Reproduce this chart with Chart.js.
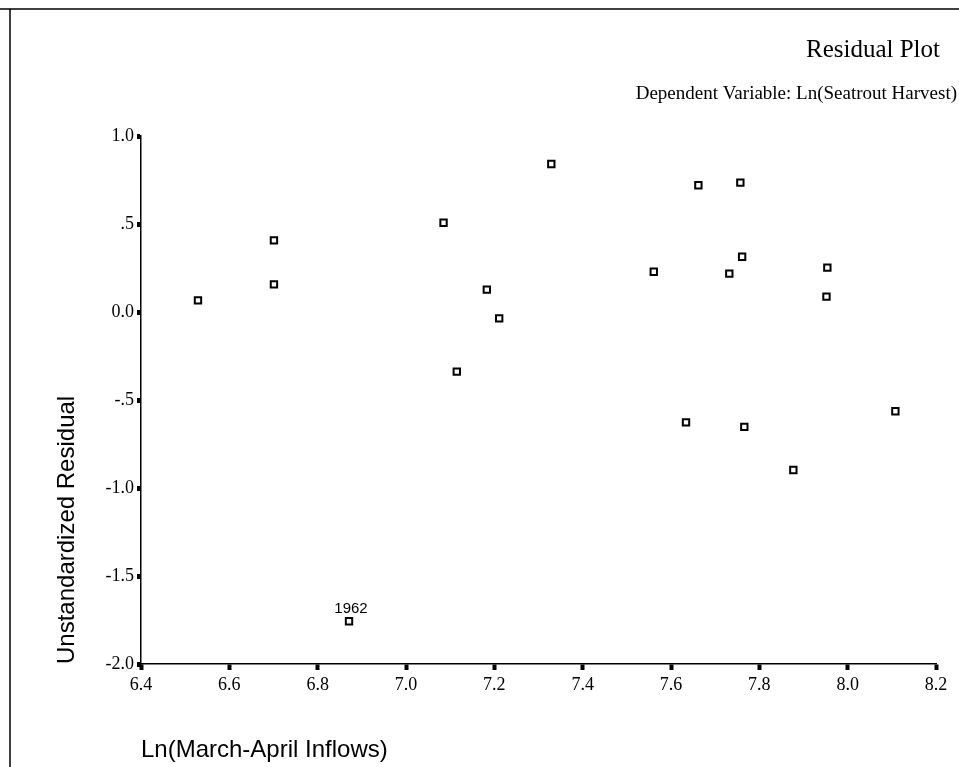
<!DOCTYPE html>
<html>
<head>
<meta charset="utf-8">
<title>Residual Plot</title>
<script src="https://cdn.jsdelivr.net/npm/chart.js@4/dist/chart.umd.min.js"></script>
<style>
  html, body { margin: 0; padding: 0; background: #fff; }
  #residualChart { display: block; }
</style>
</head>
<body>
<canvas id="residualChart" width="959" height="767"></canvas>
<script>
const inflows = [6.529, 6.701, 6.701, 6.871, 7.085, 7.115, 7.183, 7.211, 7.329, 7.561,
  7.634, 7.662, 7.732, 7.757, 7.761, 7.766, 7.877, 7.954, 7.952, 8.108];
const residuals = [0.066, 0.407, 0.157, -1.757, 0.507, -0.339, 0.127, -0.036, 0.841, 0.229,
  -0.627, 0.720, 0.218, 0.735, 0.314, -0.653, -0.898, 0.252, 0.087, -0.564];
const pointLabels = ['', '', '', '1962', '', '', '', '', '', '',
  '', '', '', '', '', '', '', '', '', ''];
const xTickLabels = ['6.4', '6.6', '6.8', '7.0', '7.2', '7.4', '7.6', '7.8', '8.0', '8.2'];
const yTickLabels = ['-2.0', '-1.5', '-1.0', '-.5', '0.0', '.5', '1.0'];

const chartTitle = 'Residual Plot';
const chartSubtitle = 'Dependent Variable: Ln(Seatrout Harvest)';
const xTitle = 'Ln(March-April Inflows)';
const yTitle = 'Unstandardized Residual';

const serif = '"Liberation Serif", "Times New Roman", serif';
const sans = '"Liberation Sans", Arial, sans-serif';

// frame, titles and the labelled point are drawn by hand on the canvas
const decorations = {
  id: 'decorations',
  beforeDraw(chart) {
    const { ctx } = chart;
    ctx.save();
    ctx.strokeStyle = '#000';
    ctx.lineWidth = 1.5;
    ctx.beginPath();
    ctx.moveTo(0, 9);
    ctx.lineTo(chart.width, 9);
    ctx.moveTo(10, 9);
    ctx.lineTo(10, chart.height);
    ctx.stroke();
    ctx.restore();
  },
  afterDraw(chart) {
    const { ctx } = chart;
    ctx.save();
    ctx.fillStyle = '#000';
    ctx.textAlign = 'right';
    ctx.textBaseline = 'alphabetic';
    ctx.font = `25px ${serif}`;
    ctx.fillText(chartTitle, 940, 57);
    ctx.font = `19px ${serif}`;
    ctx.fillText(chartSubtitle, 957, 99);

    const meta = chart.getDatasetMeta(0);
    ctx.textAlign = 'center';
    ctx.font = `15px ${sans}`;
    meta.data.forEach((pt, i) => {
      if (pointLabels[i]) {
        ctx.fillText(pointLabels[i], pt.x + 2, pt.y - 8);
      }
    });
    ctx.restore();
  },
};

const ctx = document.getElementById('residualChart');
const residualChart = new Chart(ctx, {
  type: 'scatter',
  plugins: [decorations],
  data: {
    datasets: [{
      label: 'Residual',
      data: inflows.map((x, i) => ({ x, y: residuals[i] })),
      pointStyle: 'rect',
      pointRadius: 4.5,
      pointBorderWidth: 2,
      pointBorderColor: '#000',
      pointBackgroundColor: '#fff',
    }],
  },
  options: {
    responsive: false,
    animation: false,
    layout: { padding: { left: 0, top: 136, right: 23, bottom: 0 } },
    plugins: {
      legend: { display: false },
      tooltip: { enabled: false },
    },
    scales: {
      x: {
        type: 'linear',
        min: 6.4,
        max: 8.2,
        afterBuildTicks: (scale) => {
          scale.ticks = xTickLabels.map(v => ({ value: parseFloat(v) }));
        },
        afterFit: (scale) => { scale.height = 103; },
        border: { display: true, color: '#000', width: 1.5 },
        grid: {
          drawOnChartArea: false,
          drawTicks: true,
          tickLength: 6,
          tickWidth: 4,
          tickColor: '#000',
        },
        ticks: {
          color: '#000',
          padding: 4,
          maxRotation: 0,
          autoSkip: false,
          font: { family: serif, size: 18 },
          callback: (value, index) => xTickLabels[index],
        },
        title: {
          display: true,
          text: xTitle,
          align: 'start',
          color: '#000',
          font: { family: sans, size: 24 },
          padding: { top: 0, bottom: 2 },
        },
      },
      y: {
        type: 'linear',
        min: -2,
        max: 1,
        afterBuildTicks: (scale) => {
          scale.ticks = yTickLabels.map(v => ({ value: parseFloat(v) }));
        },
        afterFit: (scale) => { scale.width = 141; },
        border: { display: true, color: '#000', width: 1.5 },
        grid: {
          drawOnChartArea: false,
          drawTicks: true,
          tickLength: 4,
          tickWidth: 5,
          tickColor: '#000',
        },
        ticks: {
          color: '#000',
          padding: 3,
          autoSkip: false,
          font: { family: serif, size: 18 },
          callback: (value, index) => yTickLabels[index],
        },
        title: {
          display: true,
          text: yTitle,
          align: 'start',
          color: '#000',
          font: { family: sans, size: 24 },
          padding: { top: 53, bottom: 0 },
        },
      },
    },
  },
});
</script>
</body>
</html>
